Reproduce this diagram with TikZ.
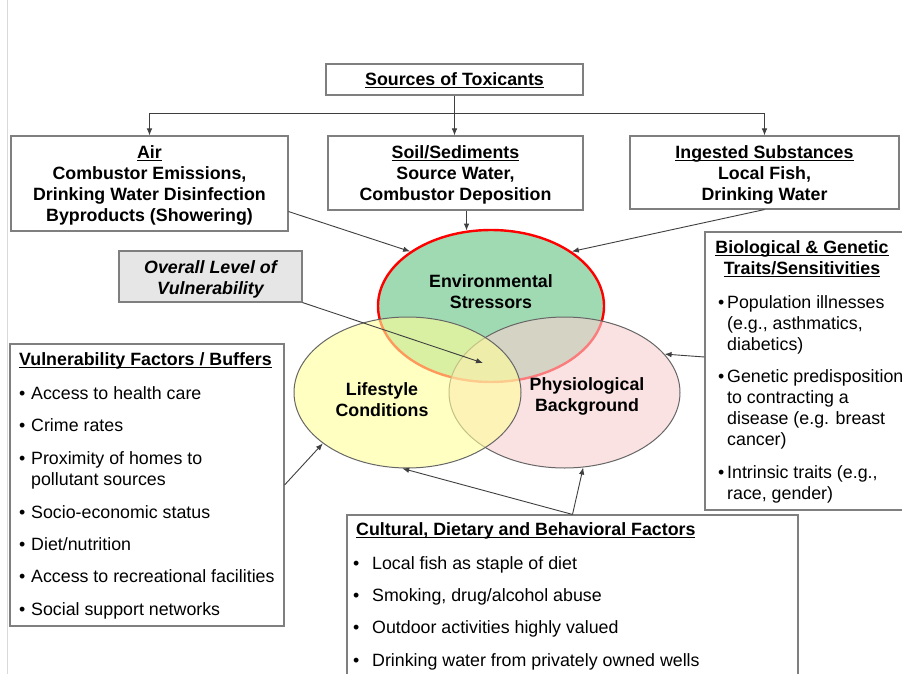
\documentclass[tikz,border=0pt]{standalone}
\usepackage{fontspec}
\setmainfont{Liberation Sans}
\usetikzlibrary{shapes.geometric,arrows.meta,calc}
\definecolor{boxgray}{HTML}{7F7F7F}
\definecolor{arrgray}{HTML}{3F3F3F}
\definecolor{envgreen}{RGB}{160,218,178}
\definecolor{lifeyellow}{HTML}{FFFF99}
\definecolor{physpink}{HTML}{F9D0D0}
\definecolor{ovlfill}{HTML}{E6E6E6}
\newcommand\myul[1]{\setbox0\hbox{#1}\rlap{\rule[-2.4pt]{\wd0}{1pt}}\box0}
\newcommand\fstrut{\rule{0pt}{13.5pt}}
\newcommand\bul[1]{\makebox[#1][l]{•}}
\begin{document}
\begin{tikzpicture}[x=1pt,y=-1pt,
  frbox/.style={draw=boxgray, line width=1.1pt, fill=white, inner sep=0pt},
  venn/.style={ellipse, inner sep=0pt},
  arr/.style={draw=arrgray, line width=0.9pt, -{Latex[length=7pt,width=5.5pt]}},
  txc/.style={inner sep=0pt, anchor=north, align=center, text=black,
    font=\fontsize{17.8}{21}\selectfont\bfseries},
  txl/.style={inner sep=0pt, anchor=north west, align=left, text=black,
    font=\fontsize{17.8}{21}\selectfont}]
\path[use as bounding box, fill=white] (0,0) rectangle (902,674);
\clip (0,0) rectangle (902,674);
\draw[black!15, line width=1pt] (7,0) -- (7,674);

% boxes
\node[frbox, minimum width=257, minimum height=31] (src) at (454.5,79.5) {};
\node[frbox, minimum width=277, minimum height=95] (air) at (149.5,183.5) {};
\node[frbox, minimum width=255, minimum height=74] (soil) at (455.5,173) {};
\node[frbox, minimum width=269, minimum height=73] (ing) at (764.5,172.5) {};
\node[frbox, fill=ovlfill, minimum width=183, minimum height=51] (ovl) at (210.5,276.5) {};
\node[frbox, minimum width=210, minimum height=278] (bio) at (810,371) {};
\node[frbox, minimum width=274, minimum height=282] (vuln) at (147,485) {};
\node[frbox, minimum width=451, minimum height=185] (cult) at (572.5,607.5) {};

% ellipses
\node[venn, fill=envgreen, draw=red, line width=2.4pt, minimum width=226, minimum height=152] (env) at (491,306) {};
\node[venn, fill=physpink, fill opacity=0.6, draw=black!60, line width=1pt, minimum width=231, minimum height=151] (phys) at (564.5,392.5) {};
\node[venn, fill=lifeyellow, fill opacity=0.6, draw=black!60, line width=1pt, minimum width=227, minimum height=151] (life) at (407.5,392.5) {};

% texts
\node[txc] (tsrc) at (454.5,71.5) {\fstrut\myul{Sources of Toxicants}};
\node[txc] (tair) at (149.5,144.5) {\fstrut\myul{Air}\\Combustor Emissions,\\Drinking Water Disinfection\\Byproducts (Showering)};
\node[txc] (tsoil) at (455.5,144.5) {\fstrut\myul{Soil/Sediments}\\Source Water,\\Combustor Deposition};
\node[txc] (ting) at (764.5,144.5) {\fstrut\myul{Ingested Substances}\\Local Fish,\\Drinking Water};
\node[txc, font=\fontsize{17.8}{21}\selectfont\bfseries\itshape] (tovl) at (210.5,259.5) {\fstrut Overall Level of\\Vulnerability};
\node[txc] (tenv) at (491,273.5) {\fstrut Environmental\\Stressors};
\node[txc] (tlife) at (382,381.5) {\fstrut Lifestyle\\Conditions};
\node[txc] (tphys) at (587,376.5) {\fstrut Physiological\\Background};

\node[txc] (tbioh) at (802,239.5) {\fstrut\myul{Biological \& Genetic}\\\myul{Traits/Sensitivities}};
\node[txl] (tbio) at (718,294.5) {\fstrut\bul{9pt}Population illnesses\\\hspace*{9pt}(e.g., asthmatics,\\\hspace*{9pt}diabetics)\\[11.5pt]
\bul{9pt}Genetic predisposition\\\hspace*{9pt}to contracting a\\\hspace*{9pt}disease (e.g. breast\\\hspace*{9pt}cancer)\\[11.5pt]
\bul{9pt}Intrinsic traits (e.g.,\\\hspace*{9pt}race, gender)};

\node[txc, anchor=north west, align=left] (tvulnh) at (19,351.5) {\fstrut\myul{Vulnerability Factors / Buffers}};
\node[txl] (tvuln) at (19,385.5) {\fstrut\bul{12pt}Access to health care\\[11pt]
\bul{12pt}Crime rates\\[12pt]
\bul{12pt}Proximity of homes to\\\hspace*{12pt}pollutant sources\\[12pt]
\bul{12pt}Socio-economic status\\[11pt]
\bul{12pt}Diet/nutrition\\[11pt]
\bul{12pt}Access to recreational facilities\\[12pt]
\bul{12pt}Social support networks};

\node[txc, anchor=north west, align=left] (tculth) at (356,521.5) {\fstrut\myul{Cultural, Dietary and Behavioral Factors}};
\node[txl] (tcult) at (353,555.5) {\fstrut\bul{19pt}Local fish as staple of diet\\[11pt]
\bul{19pt}Smoking, drug/alcohol abuse\\[11pt]
\bul{19pt}Outdoor activities highly valued\\[12pt]
\bul{19pt}Drinking water from privately owned wells};

% connectors
\coordinate (split) at ($(src.south)+(0,18)$);
\coordinate (ovlt) at (483,363);
\draw[arr] (src.south) -- (src.south |- soil.north);
\draw[arr] (split) -| (air.north);
\draw[arr] (split) -| (ing.north);
\draw[arr] (env.108 |- soil.south) -- (env.108);
\draw[arr] ($(air.south east)+(0,-20)$) -- (env.146);
\draw[arr] (ing.south) -- (env.34);
\draw[arr] (ovl.south east) -- (ovlt);
\draw[arr] ($(bio.west)+(0,-14)$) -- (phys.21);
\draw[arr] (vuln.east) -- (life.211);
\draw[arr] (cult.north) -- (life.266);
\draw[arr] (cult.north) -- (phys.284);
\end{tikzpicture}
\end{document}
